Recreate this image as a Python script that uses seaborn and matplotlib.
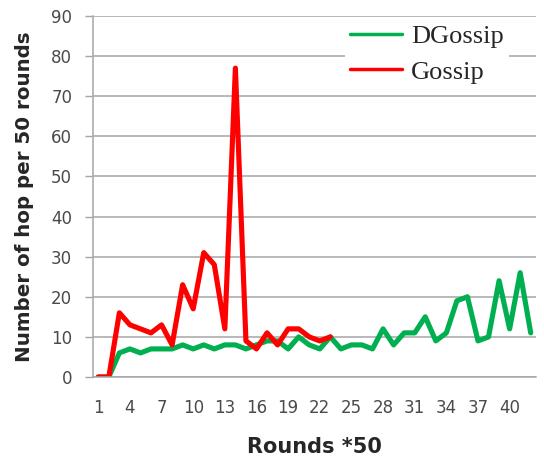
import numpy as np
import pandas as pd
import seaborn as sns
import matplotlib
matplotlib.use("Agg")
import matplotlib.pyplot as plt
from matplotlib.ticker import FixedLocator, MultipleLocator
from matplotlib.lines import Line2D

# ---- data ----
dgossip = [0, 0, 6, 7, 6, 7, 7, 7, 8, 7, 8, 7, 8, 8, 7, 8, 9, 9, 7, 10, 8,
           7, 10, 7, 8, 8, 7, 12, 8, 11, 11, 15, 9, 11, 19, 20, 9, 10, 24, 12, 26, 11]
gossip = [0, 0, 16, 13, 12, 11, 13, 8, 23, 17, 31, 28, 12, 77, 9, 7, 11, 8, 12, 12, 10, 9, 10]
series_names = ["DGossip", "Gossip"]
colors = {"DGossip": "#00B050", "Gossip": "#FF0000"}
xtick_labels = [1, 4, 7, 10, 13, 16, 19, 22, 25, 28, 31, 34, 37, 40]

rounds_g = list(range(1, len(dgossip) + 1))
rounds_r = list(range(1, len(gossip) + 1))
df = pd.DataFrame({
    "round": rounds_g + rounds_r,
    "hops": dgossip + gossip,
    "series": ["DGossip"] * len(dgossip) + ["Gossip"] * len(gossip),
})

sns.set_style("white")
plt.rcParams["font.family"] = ["DejaVu Sans"]

fig = plt.figure(figsize=(5.44, 4.57), dpi=100)
ax = fig.add_axes([93 / 544, 1 - 377 / 457, 443 / 544, 361 / 457])

sns.lineplot(data=df, x="round", y="hops", hue="series", hue_order=series_names,
             palette=colors, linewidth=3.7, ax=ax, legend=False, sort=False)

ax.set_xlim(0.5, 42.5)
ax.set_ylim(0, 90)
ax.yaxis.set_major_locator(MultipleLocator(10))
ax.grid(axis="y", color="#A6A6A6", linewidth=1.1)
ax.set_axisbelow(True)

ax.xaxis.set_major_locator(FixedLocator(xtick_labels))
ax.set_xticklabels([str(v) for v in xtick_labels])
ax.xaxis.set_minor_locator(FixedLocator(np.arange(0.5, 43, 1.0)))
ax.tick_params(axis="x", which="major", length=0, pad=16, labelsize=12, labelcolor="#4A4A4A")
ax.tick_params(axis="x", which="minor", length=5, width=1, color="#A6A6A6", direction="out")
ax.tick_params(axis="y", which="major", length=6, width=1, color="#A6A6A6", pad=9,
               labelsize=12, labelcolor="#4A4A4A", left=True)

for side in ["top", "right"]:
    ax.spines[side].set_visible(False)
for side in ["left", "bottom"]:
    ax.spines[side].set_color("#A6A6A6")
    ax.spines[side].set_linewidth(1.1)

ax.set_xlabel("Rounds *50", fontsize=15, fontweight="bold", labelpad=14)
ax.set_ylabel("Number of hop per 50 rounds", fontsize=14.3, fontweight="bold", labelpad=12)

handles = [Line2D([0], [0], color=colors[s], linewidth=2.5) for s in series_names]
leg = ax.legend(handles, series_names, loc="upper left", bbox_to_anchor=(0.569, 0.99),
                borderaxespad=0, frameon=True, facecolor="white", edgecolor="none",
                framealpha=1, handlelength=1.95, handletextpad=0.35, labelspacing=0.45,
                borderpad=0.2, prop={"family": "Liberation Serif", "size": 19})

fig.savefig("out.png", dpi=100)
